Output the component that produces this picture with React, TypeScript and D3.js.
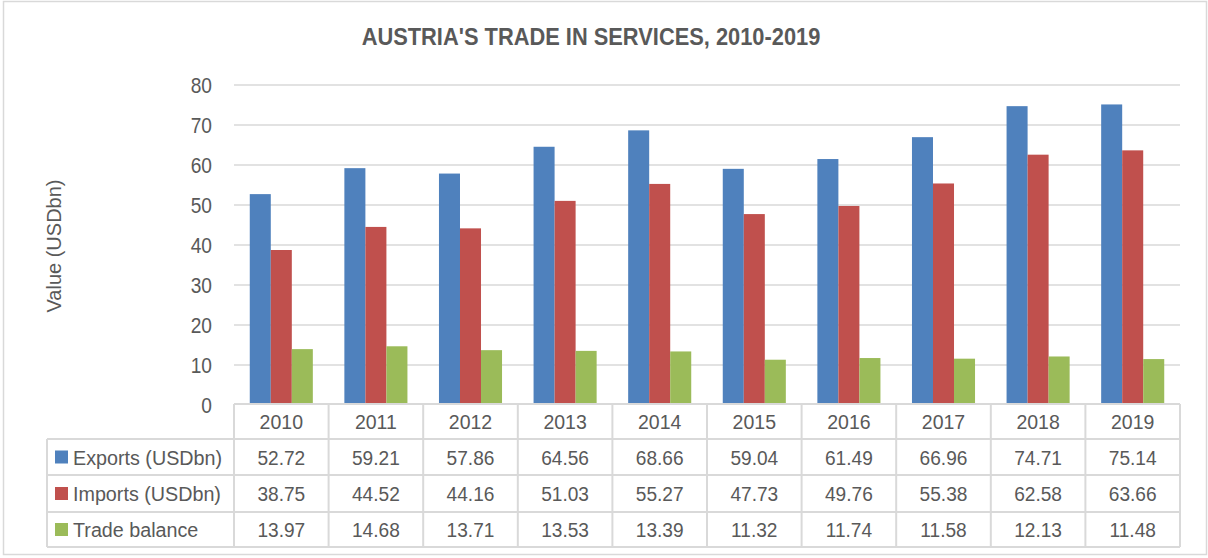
import React from "react";
import * as d3 from "d3";

const years = ["2010", "2011", "2012", "2013", "2014", "2015", "2016", "2017", "2018", "2019"];
const exportsData = [52.72, 59.21, 57.86, 64.56, 68.66, 59.04, 61.49, 66.96, 74.71, 75.14];
const importsData = [38.75, 44.52, 44.16, 51.03, 55.27, 47.73, 49.76, 55.38, 62.58, 63.66];
const balanceData = [13.97, 14.68, 13.71, 13.53, 13.39, 11.32, 11.74, 11.58, 12.13, 11.48];
const seriesNames = ["Exports (USDbn)", "Imports (USDbn)", "Trade balance"];
const seriesColors = ["#4F81BD", "#C0504D", "#9BBB59"];
const yTicks = [0, 10, 20, 30, 40, 50, 60, 70, 80];
const title = "AUSTRIA'S TRADE IN SERVICES, 2010-2019";
const yLabel = "Value (USDbn)";

const W = 1208;
const H = 558;
const FONT = "'Liberation Sans', Arial, sans-serif";
const TEXT = "#595959";
const GRID = "#d9d9d9";

type TProps = {
  x: number;
  y: number;
  sx?: number;
  anchor?: "start" | "middle" | "end";
  size: number;
  weight?: string;
  rotate?: number;
  children: React.ReactNode;
};

function T({ x, y, sx = 0.93, anchor = "start", size, weight, rotate = 0, children }: TProps) {
  return (
    <g transform={`translate(${x},${y}) rotate(${rotate}) scale(${sx},1)`}>
      <text x={0} y={0} dy="0.36em" textAnchor={anchor} fontSize={size} fontWeight={weight} fill={TEXT}>
        {children}
      </text>
    </g>
  );
}

export default function App() {
  const series = [exportsData, importsData, balanceData];
  const x = d3.scaleBand<string>().domain(years).range([234, 1180]).padding(0);
  const xInner = d3
    .scaleBand<number>()
    .domain([0, 1, 2])
    .range([0, x.bandwidth()])
    .paddingInner(0)
    .paddingOuter(0.75);
  const y = d3.scaleLinear().domain([0, 80]).range([405, 85]);

  const tableLeft = 47;
  const rowTops = [404, 439, 475, 512, 547];

  return (
    <svg
      width={W}
      height={H}
      style={{ position: "absolute", left: 0, top: 0, display: "block", background: "#fff" }}
      fontFamily={FONT}
    >
      <rect x={3.5} y={1.5} width={1203} height={553} fill="#fff" stroke={GRID} strokeWidth={1.5} />
      <T x={591} y={37} anchor="middle" size={23} weight="bold" sx={0.95}>
        {title}
      </T>
      {yTicks.map((t) => (
        <g key={t}>
          {t > 0 && <line x1={234} x2={1180} y1={y(t)} y2={y(t)} stroke={GRID} strokeWidth={1.5} />}
          <T x={212} y={y(t)} anchor="end" size={22} sx={0.87}>
            {t}
          </T>
        </g>
      ))}
      <T x={54} y={246} anchor="middle" size={20} rotate={-90} sx={1}>
        {yLabel}
      </T>
      {years.map((yr, i) => (
        <g key={yr} transform={`translate(${x(yr)},0)`}>
          {series.map((s, j) => (
            <rect
              key={j}
              x={xInner(j)}
              y={y(s[i])}
              width={xInner.bandwidth()}
              height={y(0) - y(s[i])}
              fill={seriesColors[j]}
            />
          ))}
        </g>
      ))}
      <g stroke={GRID} strokeWidth={2} fill="none">
        <line x1={234} x2={1180} y1={rowTops[0]} y2={rowTops[0]} />
        {rowTops.slice(1).map((r) => (
          <line key={r} x1={tableLeft} x2={1180} y1={r} y2={r} />
        ))}
        <line x1={tableLeft} x2={tableLeft} y1={rowTops[1]} y2={rowTops[4]} />
        {years.map((yr) => (
          <line key={yr} x1={x(yr)} x2={x(yr)} y1={rowTops[0]} y2={rowTops[4]} />
        ))}
        <line x1={1180} x2={1180} y1={rowTops[0]} y2={rowTops[4]} />
      </g>
      {years.map((yr) => (
        <T
          key={yr}
          x={(x(yr) as number) + x.bandwidth() / 2}
          y={(rowTops[0] + rowTops[1]) / 2}
          anchor="middle"
          size={21}
        >
          {yr}
        </T>
      ))}
      {series.map((s, j) => {
        const cy = (rowTops[j + 1] + rowTops[j + 2]) / 2;
        return (
          <g key={j}>
            <rect x={55} y={cy - 6.5} width={13} height={13} fill={seriesColors[j]} />
            <T x={73} y={cy} size={21} sx={0.94}>
              {seriesNames[j]}
            </T>
            {years.map((yr, i) => (
              <T key={yr} x={(x(yr) as number) + x.bandwidth() / 2} y={cy} anchor="middle" size={21} sx={0.91}>
                {s[i].toFixed(2)}
              </T>
            ))}
          </g>
        );
      })}
    </svg>
  );
}
